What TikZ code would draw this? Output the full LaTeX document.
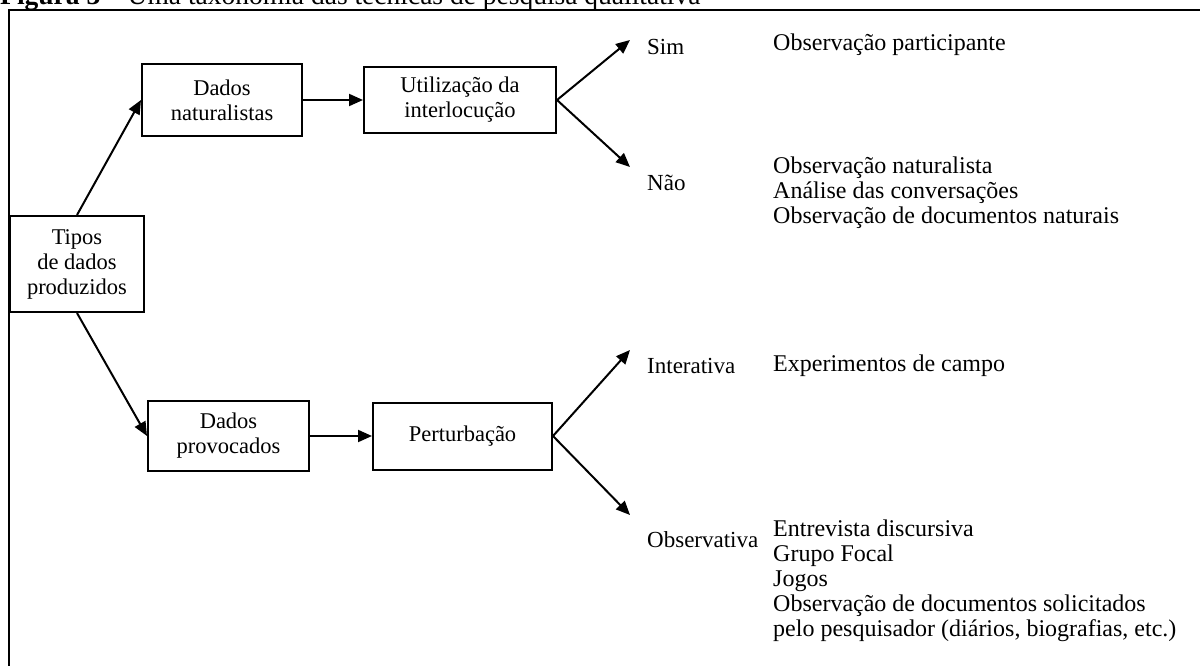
\documentclass[tikz,border=0pt]{standalone}
\usepackage{fontspec}
\setmainfont{Liberation Serif}
\usetikzlibrary{arrows.meta}
\begin{document}
\begin{tikzpicture}[x=1pt,y=-1pt,
  every node/.style={font=\fontsize{22.5}{25}\selectfont},
  box/.style={draw, line width=2pt, inner sep=0pt, align=center},
  arr/.style={line width=2pt, -{Triangle[length=14pt,width=12pt]}},
  lbl/.style={anchor=west, inner sep=0pt, font=\fontsize{23}{25}\selectfont},
  lst/.style={anchor=north west, inner sep=0pt, align=left, font=\fontsize{24}{24.8}\selectfont},
  frame/.style={draw, line width=2.5pt}]
\clip (0,0) rectangle (1200,666);
\path[frame] (9,10) rectangle (1240,720);
\node[anchor=base west, inner sep=0pt, font=\fontsize{27.5}{29}\selectfont] (title) at (0,5) {\textbf{Figura 3} -- Uma taxonomia das técnicas de pesquisa qualitativa};
% boxes
\node[box, minimum width=134pt, minimum height=96pt] (tipos) at (77,264) {Tipos\\de dados\\produzidos};
\node[box, minimum width=160pt, minimum height=72pt] (nat) at (222,100) {Dados\\naturalistas};
\node[box, minimum width=192pt, minimum height=66pt] (util) at (460,100) {Utilização da\\interlocução};
\node[box, minimum width=161pt, minimum height=70pt] (prov) at (228.5,436) {Dados\\provocados};
\node[box, minimum width=179pt, minimum height=67pt] (pert) at (462.5,436) {Perturbação};
% arrow ends
\coordinate (simtip) at (630,40);
\coordinate (naotip) at (630,167);
\coordinate (inttip) at (630,350);
\coordinate (obstip) at (630,515);
% labels
\node[lbl] (sim) at (647,47) {Sim};
\node[lbl] (nao) at (647,183) {Não};
\node[lbl] (int) at (647,366) {Interativa};
\node[lbl] (obv) at (647,540) {Observativa};
\node[lst, anchor=west] (op) at (773,45) {Observação participante};
\node[lst] (natl) at (773,157) {Observação naturalista\\Análise das conversações\\Observação de documentos naturais};
\node[lst, anchor=west] (exp) at (773,366) {Experimentos de campo};
\node[lst] (obsl) at (773,520) {Entrevista discursiva\\Grupo Focal\\Jogos\\Observação de documentos solicitados\\pelo pesquisador (diários, biografias, etc.)};
% connectors
\draw[arr] (tipos.north) -- (nat.west);
\draw[arr] (tipos.south) -- (prov.west);
\draw[arr] (nat.east) -- (util.west);
\draw[arr] (prov.east) -- (pert.west);
\draw[arr] (util.east) -- (simtip);
\draw[arr] (util.east) -- (naotip);
\draw[arr] (pert.east) -- (inttip);
\draw[arr] (pert.east) -- (obstip);
\end{tikzpicture}
\end{document}
